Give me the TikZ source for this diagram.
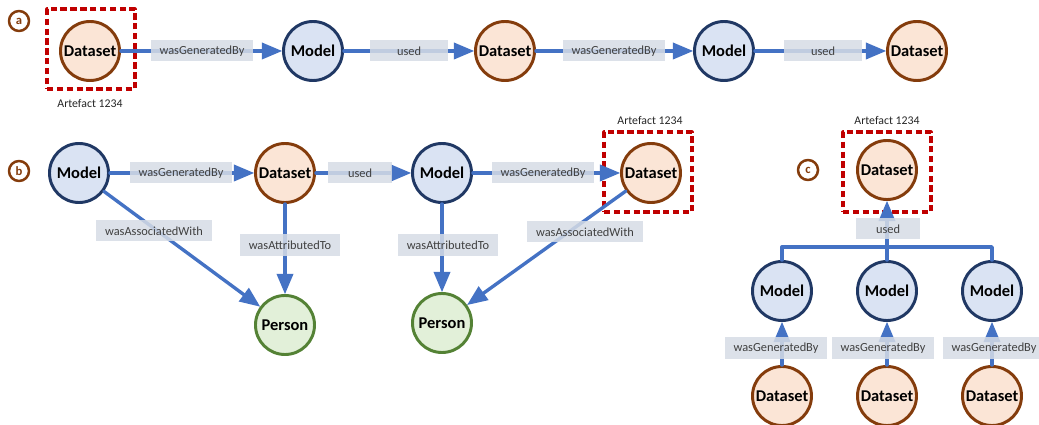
\documentclass[tikz,border=0pt]{standalone}
\usepackage{fontspec}
\setmainfont{Carlito}
\usepackage{xcolor}
\usetikzlibrary{arrows}
\definecolor{dsfill}{HTML}{FBE5D6}
\definecolor{dsline}{HTML}{843C0C}
\definecolor{mdfill}{HTML}{DAE3F3}
\definecolor{mdline}{HTML}{203864}
\definecolor{psfill}{HTML}{E2F0D9}
\definecolor{psline}{HTML}{548235}
\definecolor{lblfill}{HTML}{D6DCE5}
\definecolor{flowblue}{HTML}{4472C4}
\definecolor{framered}{HTML}{C00000}
\begin{document}
\begin{tikzpicture}[line cap=round,line join=round,>=triangle 45,x=0.025cm,y=-0.025cm,
	ent/.style={circle,line width=2.1pt,minimum size=1.475cm,inner sep=0pt,font=\fontsize{11.7}{14}\selectfont\bfseries},
	dataset/.style={ent,draw=dsline,fill=dsfill},
	model/.style={ent,draw=mdline,fill=mdfill},
	person/.style={ent,draw=psline,fill=psfill},
	lbl/.style={fill=lblfill,fill opacity=0.85,text opacity=1,text=black!75,inner xsep=0.225cm,inner ysep=0pt,minimum height=0.525cm,minimum width=1.6cm,font=\fontsize{8.8}{10}\selectfont},
	flow/.style={->,draw=flowblue,line width=2.4pt},
	frame/.style={draw=framered,line width=2.2pt,line cap=butt,dash pattern=on 4.5pt off 2.5pt,minimum width=2.2cm,minimum height=2cm},
	panel/.style={circle,draw=dsline,line width=1.8pt,fill=white,minimum size=0.5cm,inner sep=0pt,text=dsline,font=\fontsize{9}{10}\selectfont\bfseries},
	artefact/.style={font=\fontsize{8.4}{10}\selectfont,text=black!85}]
	\useasboundingbox (0,0) rectangle (1039,425);
	\node[frame] (fa) at (91,49) {};
	\node[frame] (fb) at (648,172) {};
	\node[frame] (fc) at (887,172) {};
	\node[artefact] (ta) at (90,103) {Artefact 1234};
	\node[artefact] (tb) at (650,120) {Artefact 1234};
	\node[artefact] (tc) at (887,120) {Artefact 1234};
	\node[panel] (pa) at (19,21) {a};
	\node[dataset] (a1) at (90,51) {Dataset};
	\node[model] (a2) at (313,51) {Model};
	\node[dataset] (a3) at (505,51) {Dataset};
	\node[model] (a4) at (724,51) {Model};
	\node[dataset] (a5) at (917,51) {Dataset};
	\node[panel] (pb) at (19,171) {b};
	\node[model] (b1) at (79,173) {Model};
	\node[dataset] (b2) at (285,173) {Dataset};
	\node[model] (b3) at (442,173) {Model};
	\node[dataset] (b4) at (651,173) {Dataset};
	\node[person] (b5) at (285,325) {Person};
	\node[person] (b6) at (442,323) {Person};
	\node[panel] (pc) at (808,170) {c};
	\node[dataset] (c0) at (887,170) {Dataset};
	\node[model] (c1) at (782,291) {Model};
	\node[model] (c2) at (887,291) {Model};
	\node[model] (c3) at (992,291) {Model};
	\node[dataset] (c4) at (782,396) {Dataset};
	\node[dataset] (c5) at (887,396) {Dataset};
	\node[dataset] (c6) at (992,396) {Dataset};
	\coordinate (cj) at (887,247);
	\draw[flow] (a1) -- (a2);
	\draw[flow] (a2) -- (a3);
	\draw[flow] (a3) -- (a4);
	\draw[flow] (a4) -- (a5);
	\draw[flow] (b1) -- (b2);
	\draw[flow] (b2) -- (b3);
	\draw[flow] (b3) -- (b4);
	\draw[flow] (b1) -- (b5);
	\draw[flow] (b2) -- (b5);
	\draw[flow] (b3) -- (b6);
	\draw[flow] (b4) -- (b6);
	\draw[flow] (c4) -- (c1);
	\draw[flow] (c5) -- (c2);
	\draw[flow] (c6) -- (c3);
	\draw[flow,-] (c1.north) |- (cj);
	\draw[flow,-] (c3.north) |- (cj);
	\draw[flow] (c2) -- (c0);
	\node[lbl] (la1) at (202,51) {wasGeneratedBy};
	\node[lbl,minimum width=1.95cm] (la2) at (409,51) {used};
	\node[lbl] (la3) at (614,51) {wasGeneratedBy};
	\node[lbl,minimum width=1.95cm] (la4) at (823,51) {used};
	\node[lbl] (lb1) at (181,173) {wasGeneratedBy};
	\node[lbl] (lb2) at (360,173) {used};
	\node[lbl] (lb3) at (543,173) {wasGeneratedBy};
	\node[lbl] (lb4) at (154,231) {wasAssociatedWith};
	\node[lbl] (lb5) at (290,245) {wasAttributedTo};
	\node[lbl] (lb6) at (448,245) {wasAttributedTo};
	\node[lbl] (lb7) at (585,232) {wasAssociatedWith};
	\node[lbl] (lc0) at (888,229) {used};
	\node[lbl] (lc1) at (776,348) {wasGeneratedBy};
	\node[lbl] (lc2) at (883,348) {wasGeneratedBy};
	\node[lbl] (lc3) at (994,348) {wasGeneratedBy};
\end{tikzpicture}
\end{document}
